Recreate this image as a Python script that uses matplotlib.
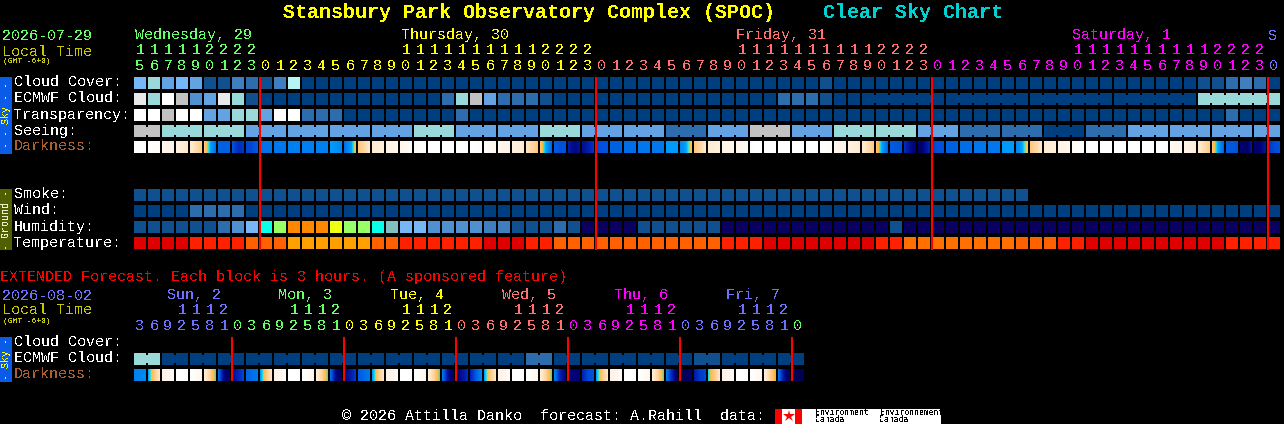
import numpy as np
import matplotlib
matplotlib.use("Agg")
import matplotlib.pyplot as plt
from matplotlib.colors import LinearSegmentedColormap

# level colours used by the sky / ground rows
palette = ['#003f7f', '#10508f', '#2d6cad', '#3f7fbf', '#5090d0', '#63a3e3', '#77b7f7',
           '#99d9d9', '#c2c2c2', '#e9e9e9', '#ffffff', '#b5f5f5',
           '#0a0060', '#08ffe8', '#99ff66', '#ff8800', '#eeff11', '#80c0c0',
           '#e00000', '#ff2000', '#ff6000', '#ffa000', '#ff7000']

cloud = [6, 7, 5, 6, 5, 1, 1, 3, 2, 1, 3, 11] + [0]*37 + [1] + [0]*26 + [1, 1, 2, 3, 2, 0]
ecmwf = [9, 7, 10, 8, 4, 5, 9, 7, 1] + [0]*13 + [2, 7, 8, 5, 2, 2, 2, 1] + [0]*16 + [2, 2, 2, 1] + [0]*26 + [7]*6
ecmwf_groups = [(52, 6), (58, 6), (64, 6), (70, 6), (76, 6)]
transparency = [10, 10, 8, 10, 10, 5, 5, 7, 7, 5, 10, 10, 2, 2, 2] + [0]*8 + [2] + [0]*54 + [2] + [0]*3
seeing_vals = [8, 7, 7, 5, 5, 5, 5, 7, 5, 5, 7, 5, 5, 2, 5, 8, 5, 7, 7, 5, 2, 2, 0, 2, 5, 5, 5, 5]
seeing_lens = [2] + [3]*26 + [2]
smoke = [1]*64
wind = [0]*4 + [2]*4 + [0]*74
humidity = ([1]*6 + [2, 4, 6, 13, 14] + [15]*3 + [16, 14, 14, 13, 17, 6, 6] + [4]*4 + [3, 3] + [1]*3 + [2, 1]
            + [12]*4 + [1]*6 + [12]*12 + [1] + [12]*27)
temperature = ([18]*4 + [19]*4 + [20]*3 + [21]*6 + [20]*2 + [19]*6 + [18]*3 + [19]*2 + [20]*12 + [19]*3
               + [18]*8 + [19]*2 + [22]*8 + [20]*3 + [19]*2 + [18]*10 + [19]*4)

# darkness, read at left / middle / right of each block (0 deep night, 1 daylight)
darkness = [
    (1, 1, 1), (1, .98, .97), (.92, .9, .88), (.88, .84, .8), (.82, .76, .7), (.68, .52, .36),
    (.33, .33, .33), (.3, .22, .24), (.27, .28, .32), (.36, .37, .37), (.38, .38, .38), (.4, .4, .4),
    (.4, .4, .4), (.4, .4, .4), (.48, .46, .42), (.36, .46, .62), (.68, .74, .8), (.82, .84, .86),
    (.88, .9, .92), (.92, .94, .96), (.96, .98, 1), (1, 1, 1), (1, 1, 1), (1, 1, 1),
    (1, .99, .97), (.96, .95, .93), (.92, .9, .88), (.88, .85, .82), (.78, .74, .68), (.66, .5, .34),
    (.32, .3, .3), (.18, .12, .15), (.14, .18, .24), (.28, .3, .3), (.33, .33, .33), (.36, .36, .36),
    (.38, .38, .38), (.38, .38, .38), (.47, .48, .48), (.42, .5, .64), (.68, .74, .8), (.82, .84, .86),
    (.88, .9, .92), (.92, .94, .96), (.98, 1, 1), (1, 1, 1), (1, 1, 1), (1, 1, 1),
    (1, 1, 1), (1, .98, .96), (.92, .9, .88), (.88, .85, .82), (.82, .76, .7), (.66, .5, .34),
    (.32, .31, .3), (.22, .14, .1), (.06, .12, .2), (.26, .3, .3), (.33, .33, .33), (.36, .36, .36),
    (.38, .38, .38), (.38, .38, .38), (.47, .48, .48), (.42, .5, .64), (.68, .74, .8), (.82, .84, .86),
    (.88, .9, .92), (.96, .98, 1), (1, 1, 1), (1, 1, 1), (1, 1, 1), (1, 1, 1),
    (1, 1, 1), (1, .99, .98), (.94, .92, .9), (.9, .87, .84), (.82, .76, .7), (.66, .5, .34),
    (.32, .31, .3), (.1, .06, .16), (.08, .1, .16), (.24, .28, .3),
]
ext_ecmwf = [7, 7] + [0]*26 + [2, 2] + [0]*10 + [1, 1] + [0]*6
ext_darkness = [
    (.4, .42, .42), (.5, .68, .8), (.88, .92, .96), (1, 1, 1), (1, .96, .92), (.84, .72, .56), (.35, .12, .06), (.14, .2, .28),
    (.34, .36, .38), (.48, .68, .8), (.88, .92, .96), (1, 1, 1), (1, .96, .92), (.84, .72, .56), (.36, .12, .05), (.1, .17, .25),
    (.32, .35, .38), (.48, .68, .8), (.88, .92, .96), (1, 1, 1), (1, .96, .92), (.84, .72, .56), (.38, .15, .05), (.08, .15, .22),
    (.2, .32, .42), (.5, .68, .8), (.88, .92, .96), (1, 1, 1), (1, .96, .92), (.84, .72, .56), (.4, .2, .1), (.1, .1, .1),
    (.2, .28, .3), (.5, .68, .8), (.88, .92, .96), (1, 1, 1), (1, .96, .92), (.84, .72, .56), (.38, .2, .05), (.05, .05, .08),
    (.18, .25, .28), (.55, .68, .8), (.88, .92, .96), (1, 1, 1), (1, .96, .92), (.85, .72, .58), (.36, .15, .05), (.05, .05, .05),
]

hours = [15, 16, 17, 18, 19, 20, 21, 22, 23] + list(range(24))*3 + [0]
ext_hours = [3, 6, 9, 12, 15, 18, 21, 0]*6
GREEN, YELLOW, SALMON, MAGENTA, VIOLET = '#66ff66', '#ffff00', '#ff7070', '#ff00ff', '#7070ff'
hour_colors = [GREEN]*9 + [YELLOW]*24 + [SALMON]*24 + [MAGENTA]*24 + [VIOLET]
ext_colors = [VIOLET]*7 + [GREEN]*8 + [YELLOW]*8 + [SALMON]*8 + [MAGENTA]*8 + [VIOLET]*8 + [GREEN]
day_labels = [('Wednesday, 29', 135, GREEN), ('Thursday, 30', 401, YELLOW), ('Friday, 31', 736, SALMON),
              ('Saturday, 1', 1072, MAGENTA), ('S', 1268, VIOLET)]
ext_day_labels = [('Sun, 2', 167, VIOLET), ('Mon, 3', 278, GREEN), ('Tue, 4', 390, YELLOW),
                  ('Wed, 5', 502, SALMON), ('Thu, 6', 614, MAGENTA), ('Fri, 7', 726, VIOLET)]
midnight_cols = [9, 33, 57, 81]
ext_midnight_cols = [7, 15, 23, 31, 39, 47]

X0, PITCH, W = 134, 14, 12

dark_cmap = LinearSegmentedColormap.from_list('dark', [
    (0.00, '#000038'), (0.10, '#000078'), (0.20, '#0022b4'), (0.30, '#0052dc'), (0.40, '#0080f0'),
    (0.50, '#00a0ff'), (0.56, '#28e0e0'), (0.60, '#f0c040'), (0.66, '#ffc070'), (0.80, '#ffe8c8'),
    (0.90, '#fff4e8'), (1.00, '#ffffff')])

plt.rcParams['text.antialiased'] = False
fig = plt.figure(figsize=(12.84, 4.24), dpi=100, facecolor='black')
ax = fig.add_axes([0, 0, 1, 1])
ax.set_xlim(0, 1284)
ax.set_ylim(424, 0)
ax.axis('off')
ax.set_facecolor('black')


def txt(x, y, s, color='white', px=15, **kw):
    kw.setdefault('family', 'Liberation Mono')
    kw.setdefault('va', 'center')
    ax.text(x, y + 1.5, s, color=color, fontsize=px*0.72, **kw)


def row(values, y, groups=None):
    xs = X0 + PITCH*np.arange(len(values))
    ax.bar(xs, W, bottom=y, width=W, align='edge', linewidth=0, antialiased=False,
           color=[palette[v] for v in values])
    # blocks of one forecast run are joined by a narrower link
    for start, n in groups or []:
        xl = X0 + PITCH*np.arange(start, start + n - 1) + W
        ax.bar(xl, W - 4, bottom=y + 2, width=PITCH - W, align='edge', linewidth=0, antialiased=False,
               color=palette[values[start]])


def dark_row(values, y):
    for i, triple in enumerate(values):
        x = X0 + PITCH*i
        t = np.interp(np.linspace(0, 2, W), [0, 1, 2], triple)
        ax.pcolormesh(np.arange(x, x + W + 1), [y, y + W], t[None, :], cmap=dark_cmap, vmin=0, vmax=1)


def hour_labels(hrs, colors, y_tens, y_units):
    for i, (h, c) in enumerate(zip(hrs, colors)):
        x = X0 + PITCH*i + 6
        txt(x, y_units, str(h % 10), c, ha='center')
        if h >= 10:
            txt(x, y_tens, str(h//10), c, ha='center')


# title
txt(283, 11, 'Stansbury Park Observatory Complex (SPOC)', '#ffff00', px=20, weight='bold')
txt(823, 11, 'Clear Sky Chart', '#00d0d0', px=20, weight='bold')

# header
txt(2, 34, '2026-07-29', GREEN)
txt(2, 50, 'Local Time', '#c8c800')
txt(3, 60, '(GMT -6+0)', '#c8c800', px=8)
for s, x, c in day_labels:
    txt(x, 34, s, c)
hour_labels(hours, hour_colors, 49, 64)

# side tabs
ax.bar(0, 77, bottom=77, width=12, align='edge', color='#0a5ce8', linewidth=0)
ax.bar(0, 61, bottom=189, width=12, align='edge', color='#506000', linewidth=0)
ax.bar(0, 45, bottom=337, width=12, align='edge', color='#0a5ce8', linewidth=0)
txt(6, 114, '- - Sky - -', '#ffff00', px=10, rotation=90, ha='center')
txt(6, 218, '- Ground -', '#f0f0d0', px=10, rotation=90, ha='center')
txt(6, 358, '- Sky -', '#ffff00', px=10, rotation=90, ha='center')

# sky rows
for s, y, c in [('Cloud Cover:', 81, 'white'), ('ECMWF Cloud:', 97, 'white'), ('Transparency:', 113, 'white'),
                ('Seeing:', 129, 'white'), ('Darkness:', 145, '#a86030'), ('Smoke:', 193, 'white'),
                ('Wind:', 209, 'white'), ('Humidity:', 225, 'white'), ('Temperature:', 241, 'white')]:
    txt(14, y, s, c)

row(cloud, 77)
row(ecmwf, 93, ecmwf_groups)
row(transparency, 109)
seeing = list(np.repeat(seeing_vals, seeing_lens))
starts = np.cumsum([0] + seeing_lens[:-1])
row(seeing, 125, list(zip(starts, seeing_lens)))
dark_row(darkness, 141)

# ground rows
row(smoke, 189)
row(wind, 205)
row(humidity, 221)
row(temperature, 237)

ax.vlines([X0 + PITCH*c for c in midnight_cols], 77, 250, color='#ff0000', linewidth=1.5)

# extended forecast
txt(0, 275, 'EXTENDED Forecast. Each block is 3 hours. (A sponsored feature)', '#ff0000')
txt(2, 294, '2026-08-02', VIOLET)
txt(2, 309, 'Local Time', '#c8c800')
txt(3, 320, '(GMT -6+0)', '#c8c800', px=8)
for s, x, c in ext_day_labels:
    txt(x, 294, s, c)
hour_labels(ext_hours, ext_colors, 309, 324)
for s, y, c in [('Cloud Cover:', 341, 'white'), ('ECMWF Cloud:', 357, 'white'), ('Darkness:', 373, '#a86030')]:
    txt(14, y, s, c)
row(ext_ecmwf, 353, [(i, 2) for i in range(0, 48, 2)])
dark_row(ext_darkness, 369)
ax.vlines([X0 + PITCH*c for c in ext_midnight_cols], 337, 381, color='#ff0000', linewidth=1.5)

# footer
txt(342, 414, '\u00a9 2026 Attilla Danko  forecast: A.Rahill  data:')
ax.bar(775, 15, bottom=409, width=166, align='edge', color='white', linewidth=0)
ax.bar([775, 795], 15, bottom=409, width=7, align='edge', color='#ff0000', linewidth=0)
ax.plot([788.5], [416], marker='*', color='#ff0000', markersize=9, markeredgewidth=0)
for x, s in [(815, 'Environment'), (880, 'Environnement')]:
    txt(x, 411, s, 'black', px=8, family='DejaVu Sans Mono')
    txt(x, 418, 'Canada', 'black', px=8, family='DejaVu Sans Mono')

fig.savefig('out.png', dpi=100, facecolor='black')
